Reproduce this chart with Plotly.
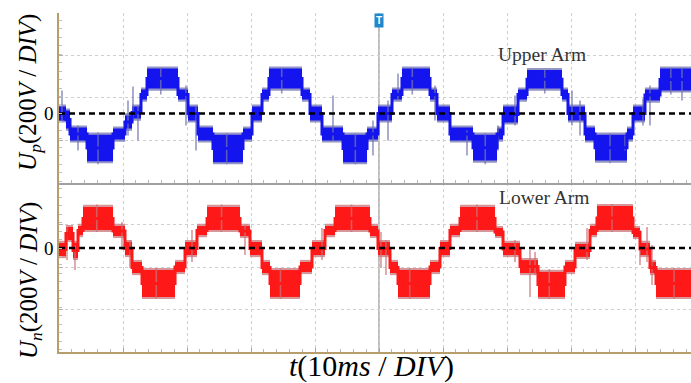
import plotly.graph_objects as go

# ---------------- data (time in ms, voltage in V) ----------------
# Upper arm: staircase segments (edges in ms) with band top / bottom (V)
upper_edges = [0, 1.09, 1.72, 4.38, 8.44, 10.31, 11.41, 12.81, 13.75, 18.59, 20.16,
               21.72, 24.06, 28.75, 30.16, 31.72, 32.81, 37.97, 39.22, 41.09, 44.38,
               48.13, 49.84, 52.03, 53.59, 57.97, 59.06, 61.09, 64.69, 68.44, 69.38,
               71.72, 73.13, 78.59, 79.53, 82.19, 83.75, 88.75, 89.69, 91.56, 93.91, 98.75]
upper_hi = [33, 14, -66, -100, -71, -9, 33, 113, 212, 113,
            33, -66, -100, -71, 33, 113, 212, 113, 33, -66,
            -100, -71, 33, 113, 212, 113, 33, -66, -100, -71,
            33, 113, 205, 113, 33, -66, -100, -71, 33, 113, 212]
upper_lo = [-33, -71, -127, -225, -123, -71, -24, 66, 118, 66,
            -33, -127, -230, -123, -33, 66, 118, 66, -33, -127,
            -230, -123, -33, 66, 118, 66, -33, -127, -222, -123,
            -42, 66, 118, 66, -33, -127, -222, -123, -33, 61, 109]
upper_spike_t = [0.47, 2.97, 10.78, 11.56, 12.34, 19.84, 21.41, 42.81, 49.06, 51.41,
                 52.97, 58.75, 63.75, 68.59, 71.25, 80.16, 81.41, 88.44, 91.25, 92.34, 97.34,
                 6.1, 15.9, 26.2, 34.8, 46.3, 55.2, 66.6, 75.9, 86.1, 95.6]
upper_spike_hi = [109, -57, 61, 127, 38, 132, 38, 85, -33, 61,
                  189, 132, -80, -57, 85, 109, 61, -104, 71, 132, 212,
                  -90, 212, -94, 212, -94, 212, -94, 205, -94, 212]
upper_spike_lo = [-33, -175, -104, -24, -127, -57, -175, -127, -198, -127,
                  61, -33, -198, -175, -57, -57, -104, -175, -57, -57, 61,
                  -240, 90, -240, 95, -240, 90, -240, 95, -235, 90]

# Lower arm
lower_edges = [0, 1.09, 2.19, 2.97, 3.75, 8.44, 10.31, 11.41, 12.97, 18.13, 19.69,
               21.56, 23.13, 28.28, 29.84, 31.72, 32.97, 37.66, 39.53, 41.56, 43.13,
               48.59, 49.84, 51.72, 52.97, 57.97, 59.53, 61.09, 62.66, 68.13, 69.38,
               72.03, 74.84, 79.06, 80.63, 82.97, 84.06, 89.69, 90.78, 92.34, 93.28, 98.75]
lower_hi = [24, 99, 24, 104, 194, 104, 28, -66, -104, -66,
            28, 104, 194, 104, 28, -66, -104, -66, 28, 104,
            194, 104, 28, -66, -104, -66, 28, 104, 194, 94,
            24, -57, -113, -66, 19, 104, 198, 94, 24, -66, -104]
lower_lo = [-38, 38, -47, 61, 85, 57, -33, -118, -231, -113,
            -33, 61, 85, 57, -33, -118, -231, -113, -33, 61,
            85, 57, -33, -118, -231, -113, -33, 61, 85, 57,
            -33, -118, -231, -113, -42, 61, 85, 52, -33, -118, -231]
lower_spike_t = [1.25, 2.5, 9.84, 11.09, 20.78, 29.06, 41.09, 50.31, 51.09, 71.25,
                 73.59, 74.38, 82.5, 90.78, 91.88, 92.66,
                 5.9, 15.2, 25.4, 34.6, 45.7, 54.8, 65.3, 76.6, 86.4, 96.1]
lower_spike_hi = [99, 14, 123, 38, 85, 109, 94, 76, 38, 38,
                  -9, -19, 94, 85, 99, 14,
                  205, -95, 205, -95, 205, -95, 205, -100, 208, -95]
lower_spike_lo = [-57, -104, -9, -94, -66, -33, -57, -94, -127, -66,
                  -231, -127, -57, -80, -66, -175,
                  75, -240, 75, -240, 75, -240, 75, -240, 75, -240]

T_MAX = 98.75
TOP_RANGE = [-325.6, 474.4]
BOT_RANGE = [-490.8, 309.2]

# ---------------- figure ----------------
fig = go.Figure()

def add_wave(edges, hi, lo, st, shi, slo, color, fringe, xa, ya):
    n = len(hi)
    mids = [(edges[i] + edges[i + 1]) / 2 for i in range(n)]
    widths = [edges[i + 1] - edges[i] for i in range(n)]
    # grey halo around the band
    fig.add_trace(go.Bar(x=mids, y=[h - l + 20 for h, l in zip(hi, lo)], base=[l - 10 for l in lo],
                         width=widths, marker=dict(color=fringe, line=dict(width=0)),
                         xaxis=xa, yaxis=ya, hoverinfo="skip"))
    sx, sy = [], []
    for t, a, b in zip(st, shi, slo):
        sx += [t, t, None]
        sy += [b, a, None]
    fig.add_trace(go.Scatter(x=sx, y=sy, mode="lines", line=dict(color=fringe, width=1.6),
                             xaxis=xa, yaxis=ya, hoverinfo="skip"))
    fig.add_trace(go.Bar(x=mids, y=[h - l for h, l in zip(hi, lo)], base=lo, width=widths,
                         marker=dict(color=color, line=dict(width=0)),
                         xaxis=xa, yaxis=ya, hoverinfo="skip"))
    # connecting staircase through band centres
    cy = [(h + l) / 2 for h, l in zip(hi, lo)]
    fig.add_trace(go.Scatter(x=edges, y=cy + [cy[-1]], mode="lines", line_shape="hv",
                             line=dict(color=color, width=3), xaxis=xa, yaxis=ya, hoverinfo="skip"))
    fig.add_trace(go.Scatter(x=[0, T_MAX], y=[0, 0], mode="lines",
                             line=dict(color="black", width=2.5, dash="6px,4px"),
                             xaxis=xa, yaxis=ya, hoverinfo="skip"))

add_wave(upper_edges, upper_hi, upper_lo, upper_spike_t, upper_spike_hi, upper_spike_lo,
         "#1414ee", "rgba(112,115,175,0.75)", "x2", "y2")
add_wave(lower_edges, lower_hi, lower_lo, lower_spike_t, lower_spike_hi, lower_spike_lo,
         "#ff1818", "rgba(200,115,120,0.75)", "x", "y")

grid = "#cfcfcf"
tan = "#b89d6c"
common_x = dict(range=[0, T_MAX], tick0=0, dtick=10, showgrid=True, gridcolor=grid,
                griddash="dot", gridwidth=1, showticklabels=False, zeroline=False,
                ticks="inside", ticklen=4, tickcolor="#a8a8a8",
                minor=dict(dtick=2, ticks="inside", ticklen=3, tickcolor="#b8b8b8", showgrid=False))
fig.update_layout(
    width=691, height=383,
    margin=dict(l=59, r=0, t=13, b=31),
    paper_bgcolor="white", plot_bgcolor="white",
    showlegend=False, barmode="overlay",
    font=dict(family="Liberation Serif", color="black"),
    xaxis=dict(**common_x, anchor="y", showline=True, linecolor=tan, linewidth=2),
    xaxis2=dict(**common_x, anchor="y2", matches="x", showline=True, linecolor="#a0a0a0", linewidth=1.5),
    yaxis=dict(domain=[0, 0.5], range=BOT_RANGE, tick0=BOT_RANGE[0], dtick=200, showgrid=True,
               gridcolor=grid, griddash="dot", showticklabels=False, zeroline=False,
               showline=True, linecolor=tan, linewidth=2, ticks="inside", ticklen=4, tickcolor="#b0b0b0",
               minor=dict(dtick=40, ticks="inside", ticklen=3, tickcolor="#c0c0c0", showgrid=False)),
    yaxis2=dict(domain=[0.5, 1], range=TOP_RANGE, tick0=TOP_RANGE[0], dtick=200, showgrid=True,
                gridcolor=grid, griddash="dot", showticklabels=False, zeroline=False,
                showline=True, linecolor=tan, linewidth=2, ticks="inside", ticklen=4, tickcolor="#b0b0b0",
                minor=dict(dtick=40, ticks="inside", ticklen=3, tickcolor="#c0c0c0", showgrid=False)),
)

# centre vertical graticule line
fig.add_shape(type="line", xref="x", yref="paper", x0=50, x1=50, y0=0, y1=1,
              line=dict(color="#a8a8a8", width=1.5), layer="below")

ann = []
ann.append(dict(text="0", xref="paper", yref="y2", x=-0.004, y=0, xanchor="right", yanchor="middle",
                showarrow=False, font=dict(size=19, family="Liberation Serif")))
ann.append(dict(text="0", xref="paper", yref="y", x=-0.004, y=0, xanchor="right", yanchor="middle",
                showarrow=False, font=dict(size=19, family="Liberation Serif")))
ann.append(dict(text="<i>U</i><sub><i>p</i></sub>(200<i>V</i> / <i>DIV</i>)", xref="paper", yref="paper",
                x=-0.046, y=0.767, textangle=-90, showarrow=False, xanchor="center", yanchor="middle",
                font=dict(size=25, family="Liberation Serif")))
ann.append(dict(text="<i>U</i><sub><i>n</i></sub>(200<i>V</i> / <i>DIV</i>)", xref="paper", yref="paper",
                x=-0.046, y=0.212, textangle=-90, showarrow=False, xanchor="center", yanchor="middle",
                font=dict(size=25, family="Liberation Serif")))
ann.append(dict(text="<i>t</i>(10<i>ms</i> / <i>DIV</i>)", xref="paper", yref="paper",
                x=0.495, y=-0.041, showarrow=False, xanchor="center", yanchor="middle",
                font=dict(size=30, family="Liberation Serif")))
ann.append(dict(text="Upper Arm", xref="paper", yref="paper", x=0.764, y=0.879, showarrow=False,
                xanchor="center", yanchor="middle", font=dict(size=19.5, color="#333333", family="Liberation Serif")))
ann.append(dict(text="Lower Arm", xref="paper", yref="paper", x=0.767, y=0.457, showarrow=False,
                xanchor="center", yanchor="middle", font=dict(size=19.5, color="#333333", family="Liberation Serif")))
ann.append(dict(text="<b>T</b>", xref="x", yref="paper", x=50, y=0.979, showarrow=False,
                xanchor="center", yanchor="middle", bgcolor="#1f88cc", borderpad=1,
                font=dict(size=10, color="white", family="Arial")))
fig.update_layout(annotations=ann)

fig.write_html("out.html")
